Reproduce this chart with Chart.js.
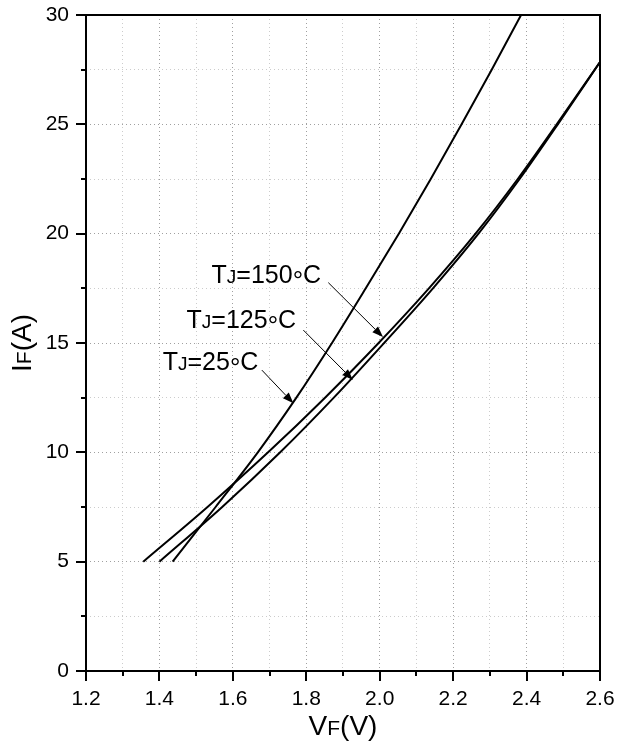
<!DOCTYPE html>
<html>
<head>
<meta charset="utf-8">
<script src="https://cdn.jsdelivr.net/npm/chart.js@4/dist/chart.umd.min.js"></script>
<style>
  html, body { margin: 0; padding: 0; background: #fff; }
  #wrap { width: 624px; height: 743px; }
</style>
</head>
<body>
<div id="wrap"><canvas id="ivChart" width="624" height="743"></canvas></div>
<script>
// forward current levels (A) and the read-off forward voltages (V)
const currents = [5, 7.5, 10, 12.5, 15, 17.5, 20, 22.5, 25, 27.85];
const vf150 = [1.356, 1.531, 1.696, 1.851, 1.997, 2.134, 2.261, 2.376, 2.482, 2.600];
const vf125 = [1.400, 1.571, 1.729, 1.875, 2.012, 2.145, 2.269, 2.381, 2.485, 2.600];

const currents25 = [5, 7.5, 10, 12.5, 15, 17.5, 20, 22.5, 25, 27.5, 30];
const vf25 = [1.436, 1.553, 1.668, 1.773, 1.870, 1.962, 2.052, 2.139, 2.223, 2.305, 2.385];

// axis ticks
const xTicks = [1.2, 1.4, 1.6, 1.8, 2.0, 2.2, 2.4, 2.6];
const yTicks = [0, 5, 10, 15, 20, 25, 30];

// curve labels: text, where the text sits, where the arrow points (data units)
const curveLabels = [
    { temp: "150", text: [1.542, 17.73], from: [1.860, 17.76], to: [2.009, 15.27] },
    { temp: "125", text: [1.474, 15.67], from: [1.792, 15.59], to: [1.927, 13.31] },
    { temp: "25",  text: [1.409, 13.76], from: [1.679, 13.76], to: [1.765, 12.24] }
];

function toPoints(xs, ys) {
    return xs.map((v, i) => ({ x: v, y: ys[i] }));
}

const FONT = "'Liberation Sans', Arial, sans-serif";

function isMajor(value, list) {
    return list.some(t => Math.abs(t - value) < 1e-6);
}

// draws text runs like [["T",24],["J",18],["=150",24]] on one baseline
// (third item, if any, shifts that run down)
function drawRuns(ctx, runs, x, y, align) {
    let total = 0;
    runs.forEach(r => {
        ctx.font = r[1] + "px " + FONT;
        total += ctx.measureText(r[0]).width;
    });
    let cx = align === "center" ? x - total / 2 : x;
    ctx.textAlign = "left";
    ctx.textBaseline = "alphabetic";
    runs.forEach(r => {
        ctx.font = r[1] + "px " + FONT;
        ctx.fillText(r[0], cx, y + (r[2] || 0));
        cx += ctx.measureText(r[0]).width;
    });
}

const framePlugin = {
    id: "frame",
    afterDraw(chart) {
        const ctx = chart.ctx;
        const a = chart.chartArea;
        const xs = chart.scales.x;
        const ys = chart.scales.y;

        ctx.save();
        ctx.strokeStyle = "#000";
        ctx.fillStyle = "#000";

        // box
        ctx.lineWidth = 2;
        ctx.strokeRect(a.left, a.top, a.right - a.left, a.bottom - a.top);

        // outward ticks, long ones on labelled values
        ctx.beginPath();
        for (let v = 1.2; v <= 2.6001; v += 0.1) {
            const px = Math.round(xs.getPixelForValue(v));
            const len = isMajor(v, xTicks) ? 10 : 5;
            ctx.moveTo(px, a.bottom);
            ctx.lineTo(px, a.bottom + len);
        }
        for (let v = 0; v <= 30.001; v += 2.5) {
            const py = Math.round(ys.getPixelForValue(v));
            const len = isMajor(v, yTicks) ? 10 : 5;
            ctx.moveTo(a.left, py);
            ctx.lineTo(a.left - len, py);
        }
        ctx.stroke();

        // axis titles
        drawRuns(ctx, [["V", 28], ["F", 21], ["(V)", 28]], (a.left + a.right) / 2, 735, "center");
        ctx.save();
        ctx.translate(31, (a.top + a.bottom) / 2);
        ctx.rotate(-Math.PI / 2);
        drawRuns(ctx, [["I", 28], ["F", 21], ["(A)", 28]], 0, 0, "center");
        ctx.restore();

        // curve labels with arrows
        curveLabels.forEach(lb => {
            const tx = xs.getPixelForValue(lb.text[0]);
            const ty = ys.getPixelForValue(lb.text[1]);
            drawRuns(ctx, [["T", 25], ["J", 19], ["=" + lb.temp, 25], ["\u00B0", 26, 6], ["C", 25]], tx, ty, "left");

            const x1 = xs.getPixelForValue(lb.from[0]);
            const y1 = ys.getPixelForValue(lb.from[1]);
            const x2 = xs.getPixelForValue(lb.to[0]);
            const y2 = ys.getPixelForValue(lb.to[1]);
            const ang = Math.atan2(y2 - y1, x2 - x1);
            const headLen = 11, headW = 4;
            const bx = x2 - headLen * Math.cos(ang);
            const by = y2 - headLen * Math.sin(ang);

            ctx.lineWidth = 1;
            ctx.beginPath();
            ctx.moveTo(x1, y1);
            ctx.lineTo(bx, by);
            ctx.stroke();

            ctx.beginPath();
            ctx.moveTo(x2, y2);
            ctx.lineTo(bx + headW * Math.sin(ang), by - headW * Math.cos(ang));
            ctx.lineTo(bx - headW * Math.sin(ang), by + headW * Math.cos(ang));
            ctx.closePath();
            ctx.fill();
        });

        ctx.restore();
    }
};

function curve(label, pts) {
    return {
        label: label,
        data: pts,
        borderColor: "#000",
        borderWidth: 2,
        pointRadius: 0,
        fill: false,
        cubicInterpolationMode: "monotone"
    };
}

const gridStyle = {
    drawTicks: false,
    lineWidth: 1
};

new Chart(document.getElementById("ivChart").getContext("2d"), {
    type: "line",
    data: {
        datasets: [
            curve("TJ=25°C", toPoints(vf25, currents25)),
            curve("TJ=125°C", toPoints(vf125, currents)),
            curve("TJ=150°C", toPoints(vf150, currents))
        ]
    },
    options: {
        responsive: false,
        animation: false,
        layout: { padding: { top: 15, right: 24, left: 0, bottom: 0 } },
        plugins: {
            legend: { display: false },
            tooltip: { enabled: false }
        },
        scales: {
            x: {
                type: "linear",
                min: 1.2,
                max: 2.6,
                afterFit(scale) {
                    scale.height = 72;
                    scale.paddingLeft = 0;
                    scale.paddingRight = 0;
                },
                afterBuildTicks(scale) {
                    const t = [];
                    for (let i = 12; i <= 26; i++) t.push({ value: i / 10 });
                    scale.ticks = t;
                },
                ticks: {
                    padding: 16,
                    maxRotation: 0,
                    autoSkip: false,
                    color: "#000",
                    font: { family: FONT, size: 21 },
                    callback: v => isMajor(v, xTicks) ? v.toFixed(1) : ""
                },
                grid: Object.assign({}, gridStyle, {
                    color: c => isMajor(c.tick.value, xTicks) ? "#a0a0a0" : "#cccccc"
                }),
                border: { display: false, dash: [1, 3] }
            },
            y: {
                type: "linear",
                min: 0,
                max: 30,
                afterFit(scale) {
                    scale.width = 86;
                    scale.paddingTop = 0;
                    scale.paddingBottom = 0;
                },
                afterBuildTicks(scale) {
                    const t = [];
                    for (let i = 0; i <= 12; i++) t.push({ value: i * 2.5 });
                    scale.ticks = t;
                },
                ticks: {
                    padding: 17,
                    autoSkip: false,
                    color: "#000",
                    font: { family: FONT, size: 21 },
                    callback: v => isMajor(v, yTicks) ? String(v) : ""
                },
                grid: Object.assign({}, gridStyle, {
                    color: c => isMajor(c.tick.value, yTicks) ? "#a0a0a0" : "#cccccc"
                }),
                border: { display: false, dash: [1, 3] }
            }
        }
    },
    plugins: [framePlugin]
});
</script>
</body>
</html>
